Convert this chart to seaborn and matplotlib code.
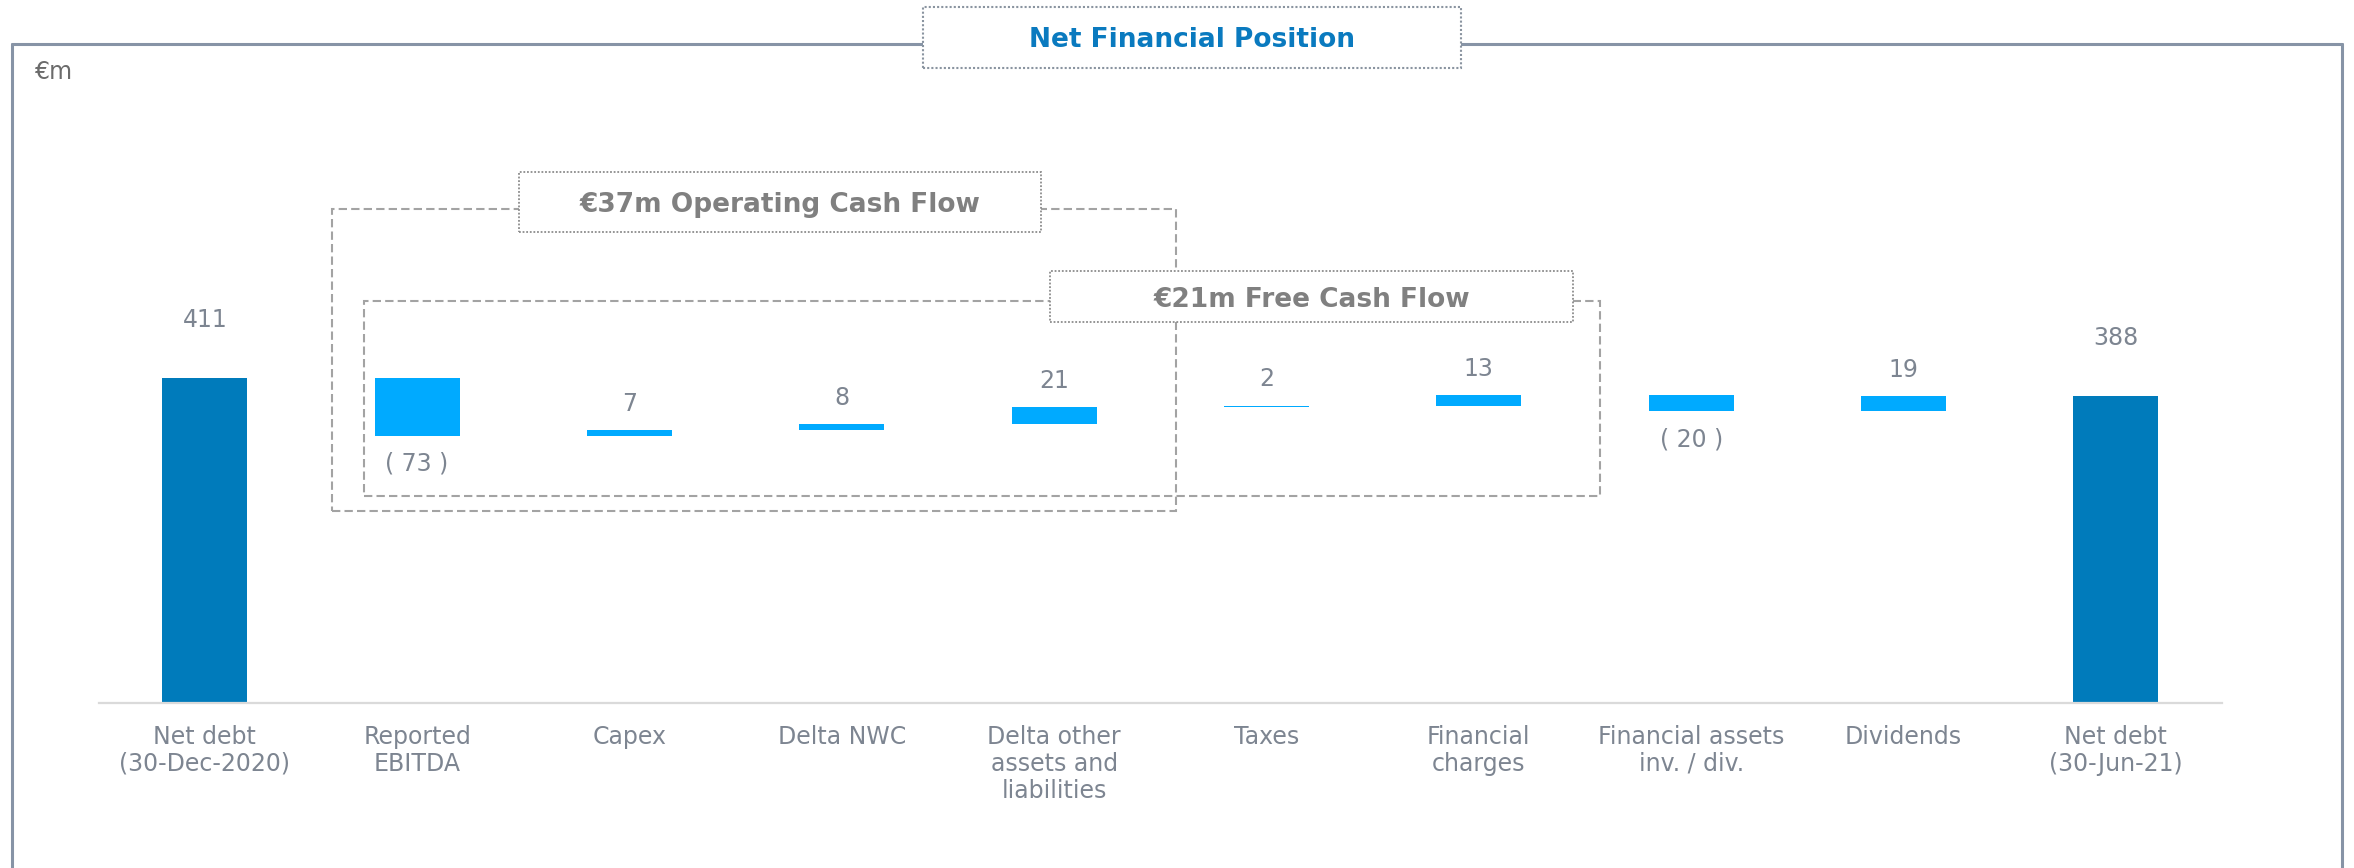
import numpy as np
import pandas as pd
import matplotlib
matplotlib.use("Agg")
import matplotlib.pyplot as plt
import seaborn as sns
from matplotlib.patches import Rectangle
from matplotlib.lines import Line2D

# data (EUR m)
categories = [
    "Net debt\n(30-Dec-2020)",
    "Reported\nEBITDA",
    "Capex",
    "Delta NWC",
    "Delta other\nassets and\nliabilities",
    "Taxes",
    "Financial\ncharges",
    "Financial assets\ninv. / div.",
    "Dividends",
    "Net debt\n(30-Jun-21)",
]
opening_debt = 411
changes = [-73, 7, 8, 21, 2, 13, -20, 19]
closing_debt = 388

title = "Net Financial Position"
unit_label = "€m"
ocf_label = "€37m Operating Cash Flow"
fcf_label = "€21m Free Cash Flow"

DARK_BLUE = "#007bbb"
LIGHT_BLUE = "#00aaff"
TEXT_GREY = "#7d8591"
LABEL_GREY = "#808080"
DASH_GREY = "#a3a3a3"
FRAME_GREY = "#8794a6"

sns.set_theme(style="white")
plt.rcParams["font.family"] = ["DejaVu Sans"]

# waterfall: each step floats between the running totals
levels = np.cumsum([opening_debt] + changes)
bottoms = [0] + list(np.minimum(levels[:-1], levels[1:])) + [0]
heights = [opening_debt] + [abs(c) for c in changes] + [closing_debt]
is_total = [True] + [False] * len(changes) + [True]
df = pd.DataFrame({"category": categories, "bottom": bottoms, "height": heights})

W, H = 2354, 868
fig = plt.figure(figsize=(W / 100, H / 100), dpi=100)

# axes placed in pixel terms of the reference
ax = fig.add_axes([98.6 / W, (H - 702.5) / H, (2222 - 98.6) / W, (702.5 - 43.5) / H])
sns.barplot(data=df, x="category", y="height", bottom=df["bottom"].values,
            color=LIGHT_BLUE, saturation=1, width=0.4, ax=ax, zorder=2)
for patch, total in zip(ax.patches, is_total):
    patch.set_facecolor(DARK_BLUE if total else LIGHT_BLUE)
    patch.set_edgecolor("none")

ax.set_xlim(-0.5, 9.5)
ax.set_ylim(0, 835)
ax.set_yticks([])
ax.set_xlabel("")
ax.set_ylabel("")
for side in ["left", "right", "top"]:
    ax.spines[side].set_visible(False)
ax.spines["bottom"].set_color("#dadada")
ax.spines["bottom"].set_linewidth(1.6)
ax.tick_params(axis="x", length=0, pad=16, labelsize=17, labelcolor=TEXT_GREY)
for lbl in ax.get_xticklabels():
    lbl.set_multialignment("center")
    lbl.set_linespacing(1.17)

# value labels
for i, (b, h) in enumerate(zip(bottoms, heights)):
    if is_total[i]:
        ax.annotate(f"{h}", (i, h), xytext=(0, 42), textcoords="offset points",
                    ha="center", va="center", fontsize=17, color=TEXT_GREY)
    else:
        c = changes[i - 1]
        if c > 0:
            ax.annotate(f"{c}", (i, b + h), xytext=(0, 19), textcoords="offset points",
                        ha="center", va="center", fontsize=17, color=TEXT_GREY)
        else:
            ax.annotate(f"( {abs(c)} )", (i, b), xytext=(0, -20), textcoords="offset points",
                        ha="center", va="center", fontsize=17, color=TEXT_GREY)


def dashed_box(x0, x1, y0, y1):
    ax.add_patch(Rectangle((x0, y0), x1 - x0, y1 - y0, fill=False, ec=DASH_GREY,
                           lw=1.5, ls=(0, (4, 2)), clip_on=False, zorder=1))


def label_box(x0, x1, y0, y1, text):
    ax.add_patch(Rectangle((x0, y0), x1 - x0, y1 - y0, fc="white", ec="#8c8c8c",
                           lw=1.3, ls=(0, (1, 1)), clip_on=False, zorder=3))
    ax.text((x0 + x1) / 2, (y0 + y1) / 2 - 4, text, ha="center", va="center",
            fontsize=19, fontweight="bold", color=LABEL_GREY, zorder=4)


dashed_box(0.6, 4.574, 243, 625)
dashed_box(0.752, 6.573, 262, 509)
label_box(1.479, 3.938, 596, 672, ocf_label)
label_box(3.98, 6.443, 482, 547, fcf_label)

# outer frame, open at the bottom
fy = (H - 43.5) / H
for xs, ys in [([12 / W, 12 / W], [0, fy]), ([12 / W, 2342 / W], [fy, fy]),
               ([2342 / W, 2342 / W], [fy, 0])]:
    fig.add_artist(Line2D(xs, ys, color=FRAME_GREY, lw=2.2, zorder=1))

# title box over the frame
fig.add_artist(Rectangle((923 / W, (H - 68) / H), 538 / W, 61 / H, transform=fig.transFigure,
                         fc="white", ec="#8a94a0", lw=1.5, ls=(0, (1, 1)), zorder=5))
fig.text(1192 / W, (H - 40) / H, title, ha="center", va="center", fontsize=19,
         fontweight="bold", color="#0a7abf", zorder=6)
fig.text(35 / W, (H - 72) / H, unit_label, ha="left", va="center", fontsize=17, color="#6b6b6b")

fig.savefig("out.png", dpi=100)
